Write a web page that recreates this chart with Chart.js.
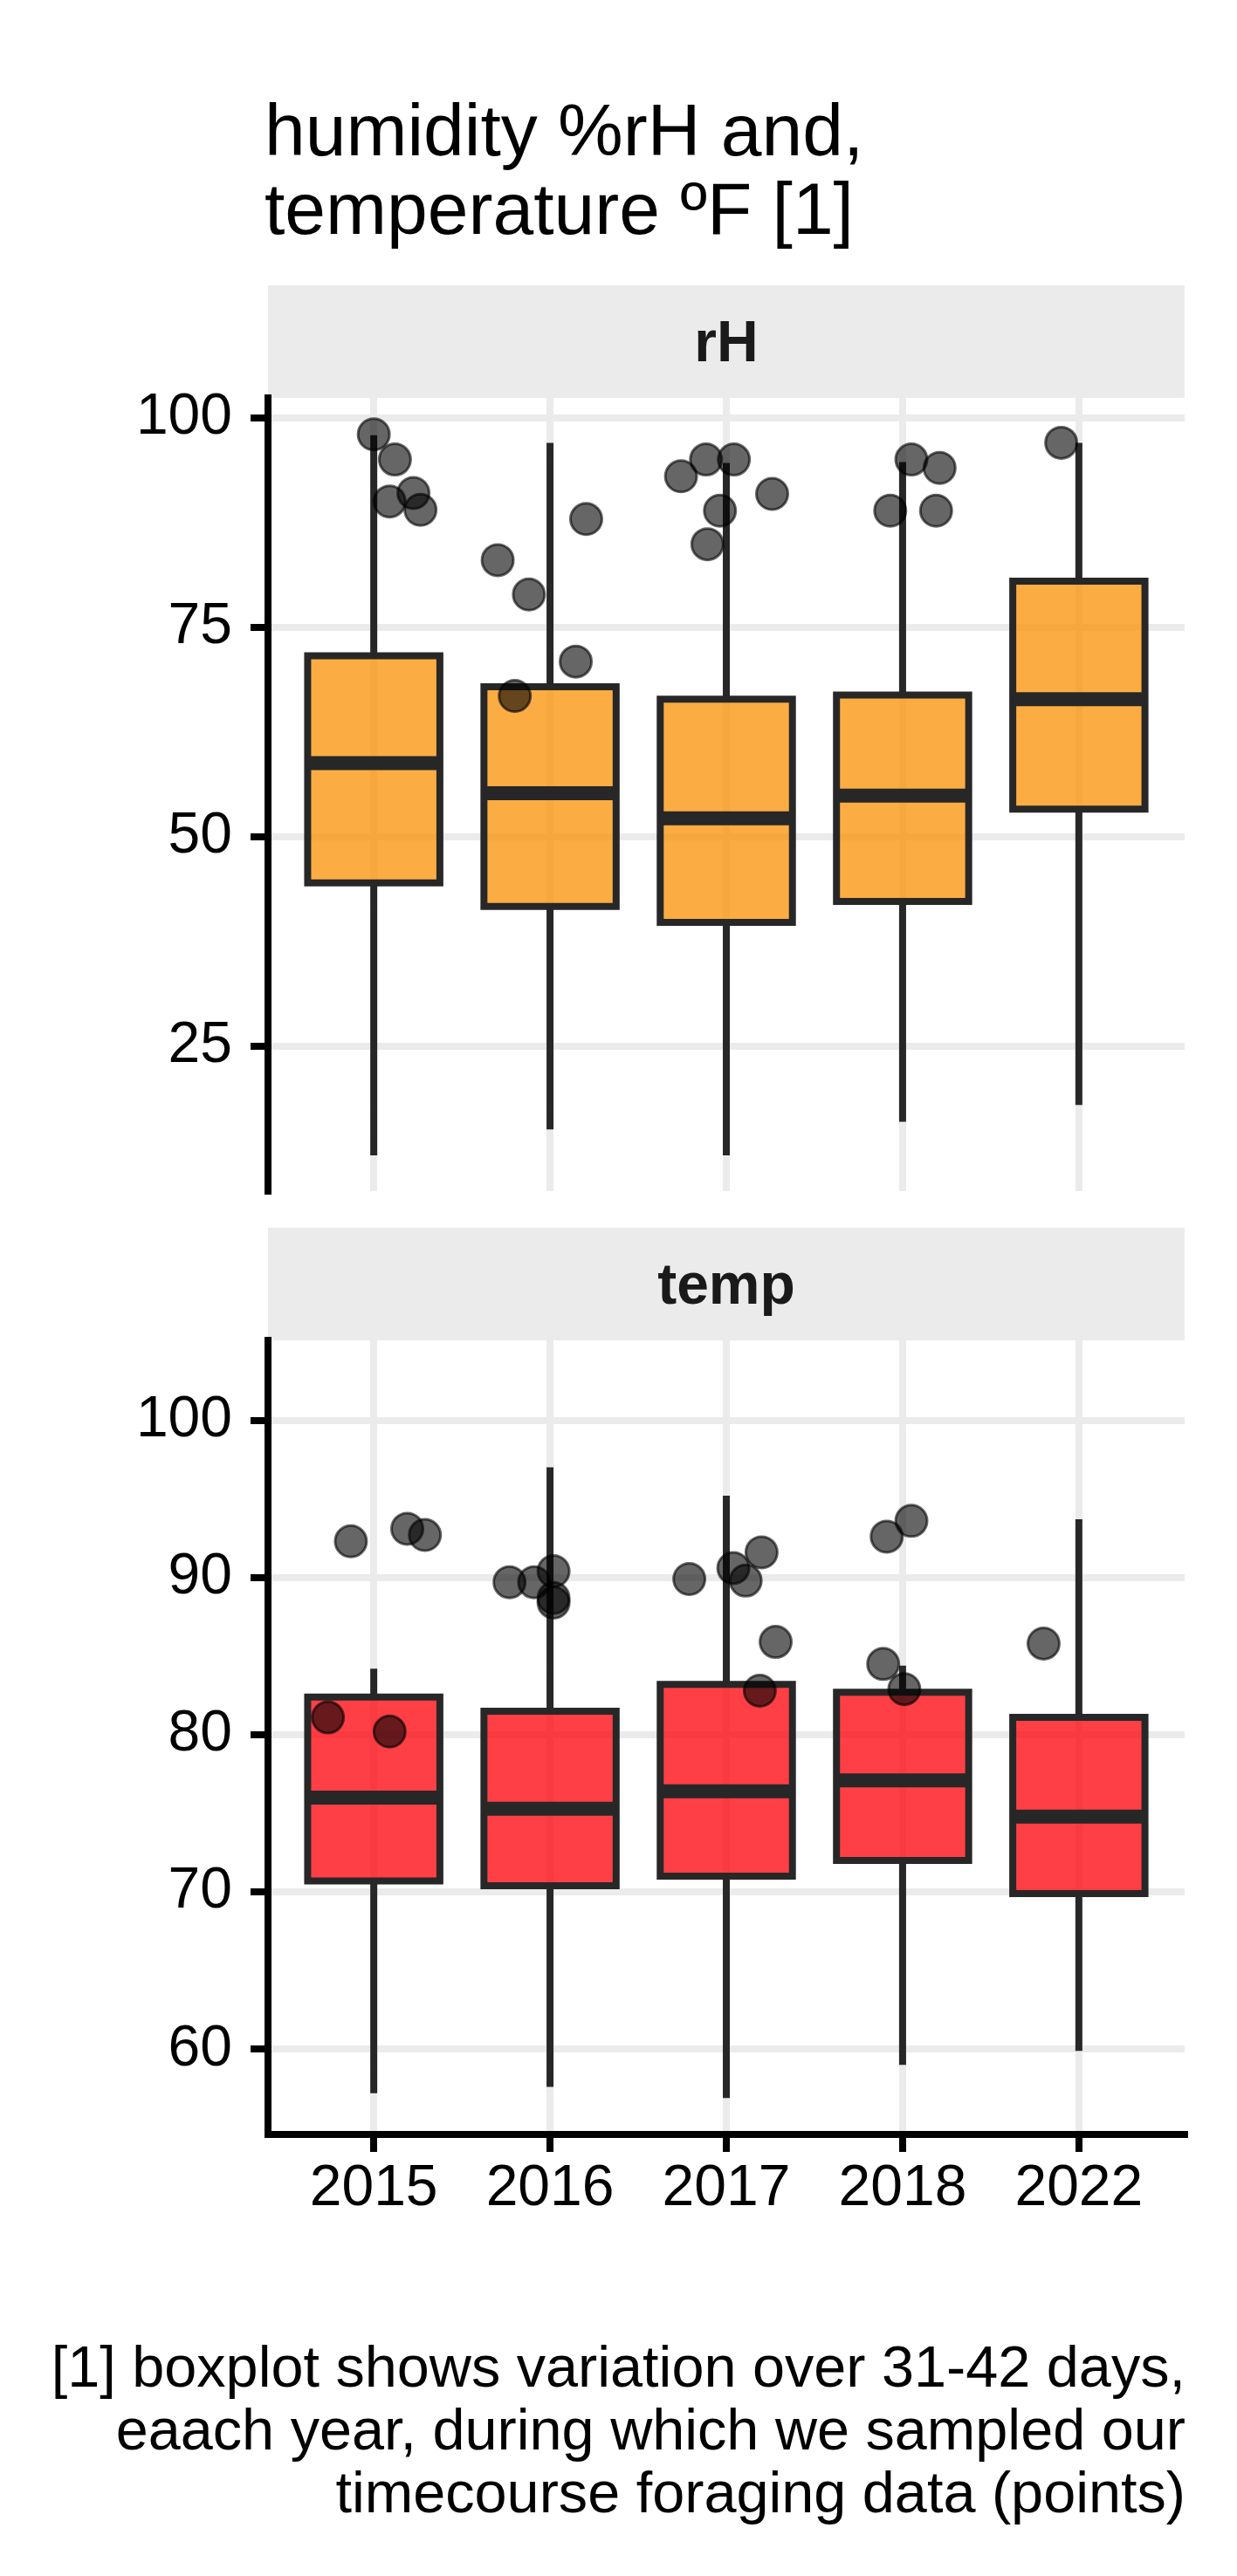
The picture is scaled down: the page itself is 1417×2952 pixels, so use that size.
<!DOCTYPE html>
<html>
<head>
<meta charset="utf-8">
<script src="https://cdn.jsdelivr.net/npm/chart.js@4/dist/chart.umd.min.js"></script>
<style>
html,body{margin:0;padding:0;background:#fff;}
body{width:1417px;height:2952px;position:relative;overflow:hidden;font-family:'Liberation Sans',Arial,sans-serif;color:#000;}
.title{position:absolute;left:303px;top:104px;font-size:84px;line-height:90px;white-space:nowrap;}
.strip{position:absolute;left:307px;width:1050px;height:129px;background:#ebebeb;font-weight:bold;font-size:66px;line-height:129px;text-align:center;color:#1a1a1a;}
.caption{position:absolute;right:59px;top:2676px;font-size:66.6px;line-height:72px;text-align:right;white-space:nowrap;}
canvas{position:absolute;left:0;}
</style>
</head>
<body>
<div class="title">humidity %rH and,<br>temperature ºF [1]</div>
<div class="strip" style="top:327px">rH</div>
<canvas id="c1" width="1417" height="929" style="top:446px;width:1417px;height:929px"></canvas>
<div class="strip" style="top:1407px">temp</div>
<canvas id="c2" width="1417" height="1080" style="top:1526px;width:1417px;height:1080px"></canvas>
<div class="caption">[1] boxplot shows variation over 31-42 days,<br>eaach year, during which we sampled our<br>timecourse foraging data (points)</div>
<script>
// ---- data ----
const years = ['2015', '2016', '2017', '2018', '2022'];

const rhTicks = [25, 50, 75, 100];
const rhRange = [7.73, 102.35];
const rhLow  = [12.0, 15.1, 12.0, 16.0, 18.0];
const rhQ1   = [44.5, 41.7, 39.8, 42.3, 53.3];
const rhMed  = [58.8, 55.2, 52.2, 54.9, 66.4];
const rhQ3   = [71.6, 67.9, 66.4, 66.9, 80.5];
const rhHigh = [97.9, 97.0, 94.6, 94.7, 97.0];
const rhPtYear = [0, 0, 0, 0, 0, 1, 1, 1, 1, 1, 2, 2, 2, 2, 2, 2, 3, 3, 3, 3, 4];
const rhPtVal  = [98.0, 95.0, 91.0, 90.0, 89.0, 83.0, 78.9, 87.9, 70.9, 66.8, 93.0, 95.0, 95.0, 88.9, 90.9, 84.9, 95.0, 94.0, 88.9, 88.9, 97.0];
const rhPtJit  = [0.0, 0.12, 0.225, 0.09, 0.265, -0.297, -0.12, 0.205, 0.146, -0.2, -0.257, -0.115, 0.043, -0.036, 0.26, -0.107, 0.05, 0.21, -0.07, 0.19, -0.1];

const tTicks = [60, 70, 80, 90, 100];
const tRange = [54.58, 105.08];
const tLow  = [57.2, 57.6, 56.9, 59.0, 59.9];
const tQ1   = [70.7, 70.4, 71.0, 72.0, 69.9];
const tMed  = [76.0, 75.3, 76.4, 77.1, 74.8];
const tQ3   = [82.4, 81.5, 83.2, 82.7, 81.1];
const tHigh = [84.2, 97.0, 95.2, 84.4, 93.7];
const tPtYear = [0, 0, 0, 0, 0, 1, 1, 1, 1, 1, 2, 2, 2, 2, 2, 2, 3, 3, 3, 3, 4];
const tPtVal  = [92.3, 93.1, 92.7, 81.1, 80.2, 89.7, 89.7, 90.4, 88.7, 88.4, 89.9, 90.6, 89.8, 91.6, 85.9, 82.8, 92.6, 93.6, 84.5, 82.9, 85.8];
const tPtJit  = [-0.13, 0.19, 0.29, -0.26, 0.09, -0.23, -0.09, 0.02, 0.02, 0.02, -0.21, 0.04, 0.11, 0.2, 0.28, 0.19, -0.09, 0.05, -0.11, 0.01, -0.2];

const boxHalf = 0.375;   // half of ggplot's default box width (0.75)
const xPad = 0.6;        // discrete axis expansion

Chart.defaults.font.family = "'Liberation Sans', Arial, sans-serif";

function boxDatasets(low, q1, med, q3, high, pYear, pVal, pJit, fill) {
  const idx = years.map((_, i) => i);
  const gap = i => ({x: i + 0.5, y: null});
  const whisk = [], outline = [], meds = [];
  idx.forEach(i => {
    whisk.push({x: i, y: q3[i]}, {x: i, y: high[i]}, gap(i), {x: i, y: low[i]}, {x: i, y: q1[i]}, gap(i));
    const L = i - boxHalf, R = i + boxHalf;
    outline.push({x: L, y: q1[i]}, {x: L, y: q3[i]}, {x: R, y: q3[i]}, {x: R, y: q1[i]}, {x: L, y: q1[i]}, {x: L, y: q3[i]}, gap(i));
    meds.push({x: L, y: med[i]}, {x: R, y: med[i]}, gap(i));
  });
  const line = {type: 'line', pointRadius: 0, pointHitRadius: 0, tension: 0, fill: false, spanGaps: false,
                borderColor: '#272727', borderCapStyle: 'butt', borderJoinStyle: 'miter'};
  return [
    Object.assign({}, line, {data: whisk, borderWidth: 8, order: 4}),
    {type: 'bar', data: idx.map(i => ({x: i, y: [q1[i], q3[i]]})), backgroundColor: fill, borderWidth: 0,
     barPercentage: 0.75, categoryPercentage: 1, grouped: false, order: 3},
    Object.assign({}, line, {data: outline, borderWidth: 8, order: 2}),
    Object.assign({}, line, {data: meds, borderWidth: 16, order: 1}),
    {type: 'scatter', data: pVal.map((v, j) => ({x: pYear[j] + pJit[j], y: v})),
     backgroundColor: 'rgba(0,0,0,0.6)', borderColor: 'rgba(0,0,0,0.6)', borderWidth: 3,
     pointRadius: 18, pointHoverRadius: 18, order: 0}
  ];
}

function makeChart(id, datasets, range, yTicks, showX) {
  return new Chart(document.getElementById(id), {
    type: 'bar',
    data: {datasets},
    options: {
      responsive: false, animation: false, events: [],
      layout: {autoPadding: false, padding: {top: 10, right: 60, left: 0, bottom: showX ? 0 : 10}},
      plugins: {legend: {display: false}, tooltip: {enabled: false}, title: {display: false}},
      scales: {
        x: {
          type: 'linear', min: -xPad, max: years.length - 1 + xPad, offset: false,
          afterBuildTicks: s => { s.ticks = years.map((_, i) => ({value: i})); },
          afterFit: s => { s.height = showX ? 160 : 0; s.paddingLeft = 0; s.paddingRight = 0; },
          grid: {offset: false, color: '#ebebeb', lineWidth: 8, drawTicks: showX, tickLength: 20, tickColor: '#000', tickWidth: 8},
          border: {display: showX, color: '#000', width: 8},
          ticks: {display: showX, callback: v => (years[v] !== undefined ? years[v] : ''),
                  font: {size: 66}, color: '#000', padding: 3, maxRotation: 0, autoSkip: false}
        },
        y: {
          type: 'linear', min: range[0], max: range[1],
          afterBuildTicks: s => { s.ticks = yTicks.map(v => ({value: v})); },
          afterFit: s => { s.width = 307; s.paddingTop = 0; s.paddingBottom = 0; },
          grid: {offset: false, color: '#ebebeb', lineWidth: 8, tickLength: 20, tickColor: '#000', tickWidth: 8},
          border: {display: true, color: '#000', width: 8},
          ticks: {font: {size: 66}, color: '#000', padding: 21, callback: v => String(v)}
        }
      }
    }
  });
}

makeChart('c1', boxDatasets(rhLow, rhQ1, rhMed, rhQ3, rhHigh, rhPtYear, rhPtVal, rhPtJit, 'rgba(250,146,4,0.75)'), rhRange, rhTicks, false);
makeChart('c2', boxDatasets(tLow, tQ1, tMed, tQ3, tHigh, tPtYear, tPtVal, tPtJit, 'rgba(254,0,8,0.75)'), tRange, tTicks, true);
</script>
</body>
</html>
